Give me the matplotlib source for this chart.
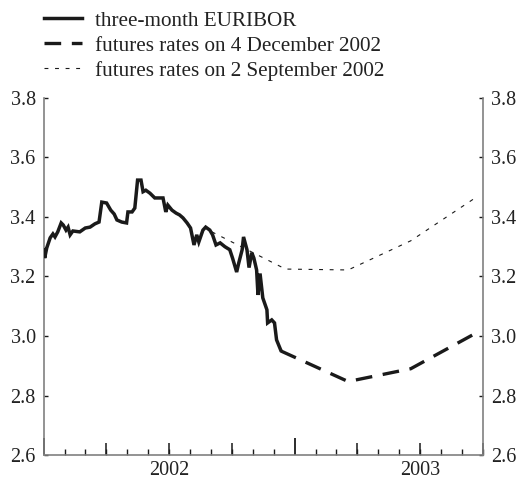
import numpy as np
import pandas as pd
import matplotlib
matplotlib.use('Agg')
import matplotlib.pyplot as plt
import matplotlib.dates as mdates

plt.rcParams['font.family'] = ['Liberation Serif', 'DejaVu Serif']

# three-month EURIBOR (daily)
euribor_dates = ['2002-01-01', '2002-01-02', '2002-01-05', '2002-01-10', '2002-01-14',
                 '2002-01-17', '2002-01-21', '2002-01-26', '2002-01-29', '2002-02-02',
                 '2002-02-05', '2002-02-08', '2002-02-12', '2002-02-22', '2002-03-02',
                 '2002-03-09', '2002-03-16', '2002-03-22', '2002-03-26', '2002-04-02',
                 '2002-04-08', '2002-04-13', '2002-04-17', '2002-04-24', '2002-05-01',
                 '2002-05-03', '2002-05-09', '2002-05-13', '2002-05-17', '2002-05-22',
                 '2002-05-25', '2002-05-29', '2002-06-04', '2002-06-11', '2002-06-23',
                 '2002-06-27', '2002-06-30', '2002-07-06', '2002-07-12', '2002-07-17',
                 '2002-07-22', '2002-07-28', '2002-08-02', '2002-08-07', '2002-08-11',
                 '2002-08-14', '2002-08-20', '2002-08-24', '2002-08-30', '2002-09-03',
                 '2002-09-08', '2002-09-14', '2002-09-21', '2002-09-28', '2002-10-02',
                 '2002-10-08', '2002-10-11', '2002-10-16', '2002-10-18', '2002-10-23',
                 '2002-10-26', '2002-10-30', '2002-11-02', '2002-11-06', '2002-11-08',
                 '2002-11-11', '2002-11-15', '2002-11-21', '2002-11-22', '2002-11-28',
                 '2002-12-02', '2002-12-05', '2002-12-11']
euribor_values = [3.29, 3.262, 3.296, 3.33, 3.343,
                  3.333, 3.35, 3.38, 3.373, 3.356,
                  3.366, 3.34, 3.353, 3.35, 3.363,
                  3.366, 3.377, 3.383, 3.45, 3.447,
                  3.423, 3.41, 3.39, 3.383, 3.38,
                  3.417, 3.417, 3.43, 3.524, 3.524,
                  3.485, 3.49, 3.48, 3.464, 3.464,
                  3.417, 3.44, 3.423, 3.413, 3.407,
                  3.397, 3.38, 3.363, 3.306, 3.34,
                  3.316, 3.356, 3.366, 3.356, 3.34,
                  3.306, 3.313, 3.30, 3.29, 3.262,
                  3.215, 3.245, 3.29, 3.333, 3.29,
                  3.23, 3.28, 3.262, 3.222, 3.138,
                  3.21, 3.128, 3.088, 3.044, 3.054,
                  3.044, 2.987, 2.953]

# futures rates on 4 December 2002
dec_dates = ['2002-12-11', '2003-03-19', '2003-06-18', '2003-09-17']
dec_values = [2.95, 2.847, 2.89, 3.005]

# futures rates on 2 September 2002
sep_dates = ['2002-09-02', '2002-12-18', '2003-03-19', '2003-06-18', '2003-09-17']
sep_values = [3.35, 3.225, 3.222, 3.32, 3.46]

year_labels = ['2002', '2003']
year_label_dates = ['2002-07-02', '2003-07-02']

fig = plt.figure(figsize=(5.23, 4.82), dpi=100)
ax = fig.add_axes([0.0841, 0.056, 0.8394, 0.7407])

ink = '#1a1a1a'
ax.plot(pd.to_datetime(euribor_dates), euribor_values, color=ink, lw=2.5,
        solid_joinstyle='miter', label='three-month EURIBOR', zorder=3)
ax.plot(pd.to_datetime(dec_dates), dec_values, color=ink, lw=2.4,
        dashes=(5, 3.2), label='futures rates on 4 December 2002')
ax.plot(pd.to_datetime(sep_dates), sep_values, color=ink, lw=0.8,
        dashes=(3.5, 6), label='futures rates on 2 September 2002')

ax.set_xlim(pd.Timestamp('2002-01-01'), pd.Timestamp('2003-10-01'))
ax.set_ylim(2.6, 3.8)
ax.set_yticks([2.6, 2.8, 3.0, 3.2, 3.4, 3.6, 3.8])
ax.yaxis.set_major_formatter(matplotlib.ticker.FormatStrFormatter('%.1f'))

for s in ['left', 'right', 'bottom']:
    ax.spines[s].set_color('#808080')
    ax.spines[s].set_linewidth(1.2)
ax.spines['top'].set_visible(False)

ax.tick_params(axis='y', which='both', direction='in', length=3, width=1,
               color=ink, left=True, right=True, labelleft=True,
               labelright=True, labelsize=14.5, labelcolor='#222222', pad=6)

# years (long), quarters (medium), months (short)
ax.xaxis.set_major_locator(mdates.YearLocator())
ax.xaxis.set_minor_locator(mdates.MonthLocator())
ax.tick_params(axis='x', which='major', direction='in', length=12, width=1.3,
               color=ink, labelbottom=False)
ax.tick_params(axis='x', which='minor', direction='in', length=4.5, width=1,
               color=ink)

sec_q = ax.secondary_xaxis('bottom')
sec_q.xaxis.set_major_locator(mdates.MonthLocator(bymonth=[4, 7, 10]))
sec_q.tick_params(direction='in', length=9, width=1.1, color=ink,
                  labelbottom=False)
sec_q.spines['bottom'].set_visible(False)

sec_y = ax.secondary_xaxis('bottom')
sec_y.set_xticks(pd.to_datetime(year_label_dates))
sec_y.set_xticklabels(year_labels)
sec_y.tick_params(length=0, labelsize=14.5, labelcolor='#222222', pad=4)
sec_y.spines['bottom'].set_visible(False)

fig.legend(loc='upper left', bbox_to_anchor=(44 / 523, 1 - 11 / 482),
           frameon=False, fontsize=15.2, handlelength=1.8, handletextpad=0.6,
           borderpad=0, borderaxespad=0, labelspacing=0.24, labelcolor='#222222')

fig.savefig('out.png', dpi=100)
